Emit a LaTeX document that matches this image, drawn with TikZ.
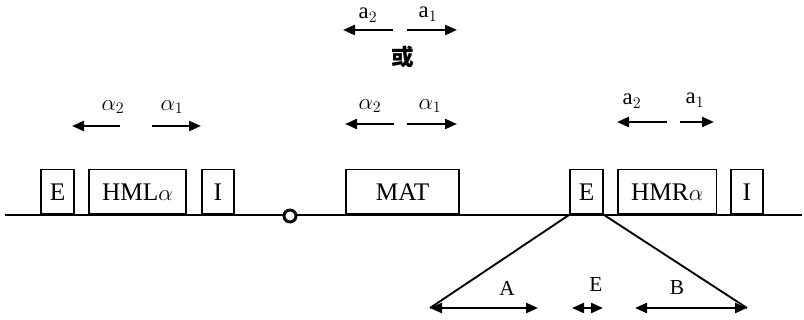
\documentclass[tikz,border=0pt]{standalone}
\usepackage{fontspec}
\setmainfont{Liberation Serif}
\newfontfamily\cjk{Noto Sans CJK SC}
\usetikzlibrary{arrows.meta, positioning}

\begin{document}
\begin{tikzpicture}[
    x=0.75pt, y=-0.75pt,
    genebox/.style={draw, line width=1.3pt, minimum height=33.5pt, inner sep=0pt,
                    anchor=south west, font=\fontsize{19}{21}\selectfont},
    lbl/.style={font=\fontsize{17}{19}\selectfont, inner sep=1pt},
    dirarrow/.style={-{Triangle[length=9pt,width=7.5pt]}, line width=1.7pt},
    spanarrow/.style={{Triangle[length=9pt,width=7.5pt]}-{Triangle[length=9pt,width=7.5pt]}, line width=1.7pt},
    >=Stealth
]
\useasboundingbox (0,0) rectangle (804,320);

% chromosome line
\coordinate (lineL) at (5,215);
\coordinate (lineR) at (802,215);
\draw[line width=1.8pt] (lineL) -- (lineR);
\node[draw, circle, line width=2.2pt, fill=white, minimum size=9pt, inner sep=0pt] (cen) at (290,216) {};

% left cassette
\node[genebox, minimum width=25pt] (el) at (40,215) {E};
\node[genebox, minimum width=73pt] (hml) at (88,215) {HML$\alpha$};
\node[genebox, minimum width=24pt] (il) at (201,215) {I};

% middle locus
\node[genebox, minimum width=85pt] (mat) at (345,215) {MAT};

% right cassette
\node[genebox, minimum width=25pt] (er) at (569,215) {E};
\node[genebox, minimum width=74pt] (hmr) at (617,215) {HMR$\alpha$};
\node[genebox, minimum width=24pt] (ir) at (730,215) {I};

% transcript directions
\node[lbl] (la2) at (113,107) {$\alpha_2$};
\node[lbl] (la1) at (172,107) {$\alpha_1$};
\draw[dirarrow] (120,126) -- (72,126);
\draw[dirarrow] (152,126) -- (201,126);

\node[lbl] (ma2) at (370,106) {$\alpha_2$};
\node[lbl] (ma1) at (430,106) {$\alpha_1$};
\draw[dirarrow] (394,124) -- (345,124);
\draw[dirarrow] (407,124) -- (457,124);

\node[font=\cjk\bfseries\fontsize{17}{19}\selectfont] (huo) at (403,57) {或};

\node[lbl] (ta2) at (368,15) {a$_2$};
\node[lbl] (ta1) at (428,14) {a$_1$};
\draw[dirarrow] (393,30) -- (343,30);
\draw[dirarrow] (407,30) -- (457,30);

\node[lbl] (ra2) at (632,101) {a$_2$};
\node[lbl] (ra1) at (695,100) {a$_1$};
\draw[dirarrow] (667,122) -- (617,122);
\draw[dirarrow] (680,122) -- (714,122);

% expanded E element
\coordinate (aL) at (430,308);
\coordinate (aR) at (538,308);
\coordinate (eL) at (572,308);
\coordinate (eR) at (603,308);
\coordinate (bL) at (635,308);
\coordinate (bR) at (747,308);
\draw[line width=1.4pt] (er.south west) -- (aL);
\draw[line width=1.4pt] (er.south east) -- (bR);
\draw[spanarrow] (aL) -- (aR);
\draw[spanarrow] (eL) -- (eR);
\draw[spanarrow] (bL) -- (bR);
\node[font=\fontsize{16}{18}\selectfont] (lA) at (507,288) {A};
\node[font=\fontsize{16}{18}\selectfont] (lE) at (596,285) {E};
\node[font=\fontsize{16}{18}\selectfont] (lB) at (677,288) {B};
\end{tikzpicture}
\end{document}
